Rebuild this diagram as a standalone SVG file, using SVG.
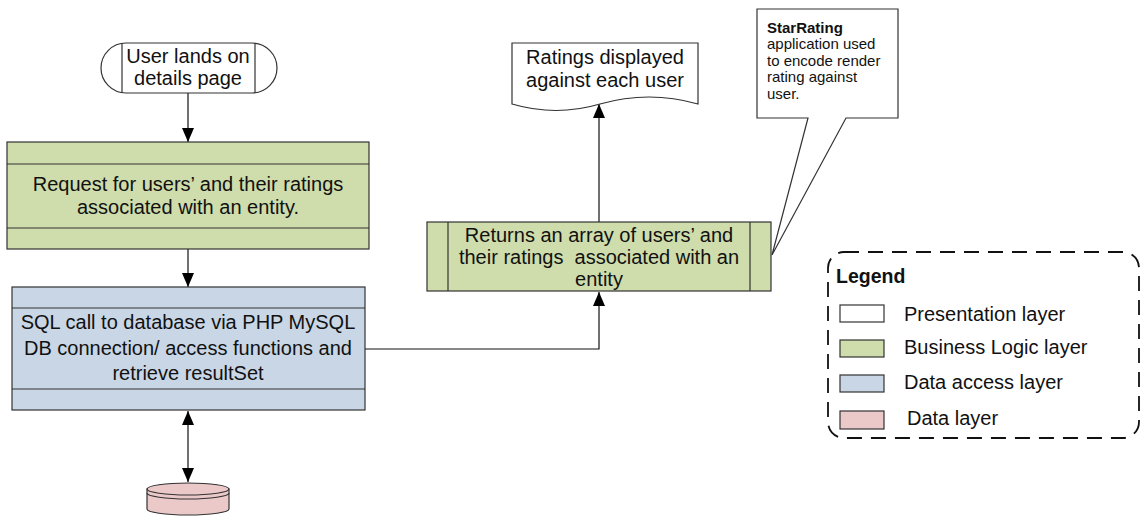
<svg xmlns="http://www.w3.org/2000/svg" width="1143" height="517" viewBox="0 0 1143 517">
  <style>
    .box { stroke: #333; stroke-width: 1.2; }
    .pres { fill: #ffffff; }
    .biz { fill: #cfdcab; }
    .dacc { fill: #c9d6e5; }
    .data { fill: #ecc9c9; }
    .t { font-family: "Liberation Sans", Arial, sans-serif; font-size: 20px; fill: #111; }
    .c { text-anchor: middle; }
    .small { font-family: "Liberation Sans", Arial, sans-serif; font-size: 15px; fill: #111; }
    .b { font-weight: bold; }
    .conn { fill: none; stroke: #111; stroke-width: 1.2; }
  </style>
  <defs>
    <marker id="arrow" markerUnits="userSpaceOnUse" markerWidth="14" markerHeight="12" viewBox="0 0 14 12" refX="14" refY="6" orient="auto-start-reverse">
      <path d="M0,0 L14,6 L0,12 Z" fill="#000"/>
    </marker>
  </defs>

  <rect width="1143" height="517" fill="#ffffff"/>

  <!-- connectors -->
  <g id="connectors">
    <path class="conn" d="M188,93 V142" marker-end="url(#arrow)"/>
    <path class="conn" d="M188,249 V287" marker-end="url(#arrow)"/>
    <path class="conn" d="M365,349 H599 V292" marker-end="url(#arrow)"/>
    <path class="conn" d="M599,222 V104" marker-end="url(#arrow)"/>
    <path class="conn" d="M188,411 V482" marker-start="url(#arrow)" marker-end="url(#arrow)"/>
  </g>

  <!-- start terminator -->
  <g id="start">
    <path class="box pres" d="M126,43 H252 A25,25 0 0 1 252,93 H126 A25,25 0 0 1 126,43 Z"/>
    <line class="box" x1="122" y1="43" x2="122" y2="93"/>
    <line class="box" x1="255" y1="43" x2="255" y2="93"/>
    <text class="t c" x="188" y="63">User lands on</text>
    <text class="t c" x="188" y="85">details page</text>
  </g>

  <!-- request process -->
  <g id="request">
    <rect class="box biz" x="7" y="142" width="362" height="107"/>
    <line class="box" x1="7" y1="164" x2="369" y2="164"/>
    <line class="box" x1="7" y1="228" x2="369" y2="228"/>
    <text class="t c" x="188" y="191">Request for users’ and their ratings</text>
    <text class="t c" x="188" y="214">associated with an entity.</text>
  </g>

  <!-- SQL call -->
  <g id="sql">
    <rect class="box dacc" x="12" y="287" width="353" height="123"/>
    <line class="box" x1="12" y1="308" x2="365" y2="308"/>
    <line class="box" x1="12" y1="389" x2="365" y2="389"/>
    <text class="t c" x="188" y="329">SQL call to database via PHP MySQL</text>
    <text class="t c" x="188" y="355">DB connection/ access functions and</text>
    <text class="t c" x="188" y="380">retrieve resultSet</text>
  </g>

  <!-- database -->
  <g id="database">
    <path class="box data" d="M147,489 V509 A41,6 0 0 0 229,509 V489 Z"/>
    <ellipse class="box data" cx="188" cy="489" rx="41" ry="6"/>
    <path class="box" fill="none" d="M147,493 A41,6 0 0 0 229,493"/>
  </g>

  <!-- returns array subprocess -->
  <g id="returns">
    <rect class="box biz" x="427" y="222" width="344" height="69"/>
    <line class="box" x1="448" y1="222" x2="448" y2="291"/>
    <line class="box" x1="750" y1="222" x2="750" y2="291"/>
    <text class="t c" x="599" y="242">Returns an array of users’ and</text>
    <text class="t c" x="599" y="264" xml:space="preserve">their ratings  associated with an</text>
    <text class="t c" x="599" y="286">entity</text>
  </g>

  <!-- output document -->
  <g id="ratings-doc">
    <path class="box pres" d="M512,43 H698 V104 Q649,90 600,104 Q556,117 512,104 Z"/>
    <text class="t c" x="605" y="64">Ratings displayed</text>
    <text class="t c" x="605" y="87">against each user</text>
  </g>

  <!-- callout note -->
  <g id="note">
    <path class="box pres" d="M757,9 H898 V118 H846 L772,255 L808,118 H757 Z"/>
    <text class="small b" x="767" y="33">StarRating</text>
    <text class="small" x="767" y="49">application used</text>
    <text class="small" x="767" y="66">to encode render</text>
    <text class="small" x="767" y="82">rating against</text>
    <text class="small" x="767" y="99">user.</text>
  </g>

  <!-- legend -->
  <g id="legend">
    <rect x="828" y="252" width="311" height="186" rx="16" fill="none" stroke="#111" stroke-width="1.8" stroke-dasharray="15 9"/>
    <text class="t b" x="836" y="283" style="font-size:19.5px">Legend</text>
    <rect class="box pres" x="840" y="305" width="44" height="17"/>
    <text class="t" x="904" y="321">Presentation layer</text>
    <rect class="box biz" x="840" y="340" width="44" height="17"/>
    <text class="t" x="904" y="354">Business Logic layer</text>
    <rect class="box dacc" x="840" y="375" width="44" height="17"/>
    <text class="t" x="904" y="389">Data access layer</text>
    <rect class="box data" x="840" y="411" width="44" height="18"/>
    <text class="t" x="907" y="425">Data layer</text>
  </g>
</svg>
